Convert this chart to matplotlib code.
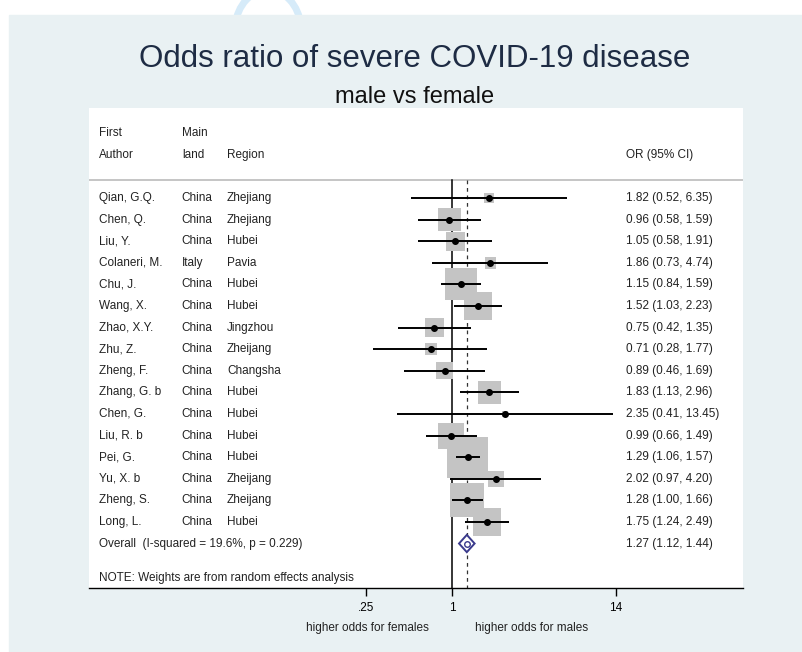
import numpy as np
import matplotlib
matplotlib.use('Agg')
import matplotlib.pyplot as plt
from matplotlib.patches import Rectangle, Arc, Polygon
import matplotlib.transforms as mtransforms

plt.rcParams['font.family'] = ['Liberation Sans', 'DejaVu Sans']

# study data
authors = ['Qian, G.Q.', 'Chen, Q.', 'Liu, Y.', 'Colaneri, M.', 'Chu, J.',
           'Wang, X.', 'Zhao, X.Y.', 'Zhu, Z.', 'Zheng, F.', 'Zhang, G. b',
           'Chen, G.', 'Liu, R. b', 'Pei, G.', 'Yu, X. b', 'Zheng, S.',
           'Long, L.']
mainland = ['China', 'China', 'China', 'Italy', 'China', 'China', 'China',
            'China', 'China', 'China', 'China', 'China', 'China', 'China',
            'China', 'China']
regions = ['Zhejiang', 'Zhejiang', 'Hubei', 'Pavia', 'Hubei', 'Hubei',
           'Jingzhou', 'Zheijang', 'Changsha', 'Hubei', 'Hubei', 'Hubei',
           'Hubei', 'Zheijang', 'Zheijang', 'Hubei']
odds = [1.82, 0.96, 1.05, 1.86, 1.15, 1.52, 0.75, 0.71, 0.89, 1.83, 2.35,
        0.99, 1.29, 2.02, 1.28, 1.75]
ci_low = [0.52, 0.58, 0.58, 0.73, 0.84, 1.03, 0.42, 0.28, 0.46, 1.13, 0.41,
          0.66, 1.06, 0.97, 1.00, 1.24]
ci_high = [6.35, 1.59, 1.91, 4.74, 1.59, 2.23, 1.35, 1.77, 1.69, 2.96, 13.45,
           1.49, 1.57, 4.20, 1.66, 2.49]
weights = [1.1, 6.0, 4.1, 1.6, 11.6, 8.9, 4.1, 1.6, 3.3, 6.0, 0.4, 7.6, 19.0,
           2.9, 13.1, 8.9]
overall_or, overall_lo, overall_hi = 1.27, 1.12, 1.44
overall_label = 'Overall  (I-squared = 19.6%, p = 0.229)'
tick_vals = [0.25, 1, 14]
tick_labels = ['.25', '1', '14']

W, H = 803, 652
fig = plt.figure(figsize=(W / 100, H / 100), dpi=100)
fig.patch.set_facecolor('white')

# outer light panel
fig.patches.append(Rectangle((9 / W, 0), (W - 9) / W, (H - 15) / H,
                             transform=fig.transFigure, color='#e9f1f3',
                             zorder=0))
# faint watermark arch at the top
fig.patches.append(Arc((268 / W, 1 - 30 / H), 66 / W, 80 / H, theta1=10,
                       theta2=170, transform=fig.transFigure,
                       color='#d6ebf9', lw=5, zorder=-1))

fig.text(415 / W, 1 - 67 / H, 'Odds ratio of severe COVID-19 disease',
         ha='center', va='baseline', fontsize=22.5, color='#1e2c44')
fig.text(415 / W, 1 - 103 / H, 'male vs female', ha='center',
         va='baseline', fontsize=17, color='#111111')

ax = fig.add_axes([89 / W, 1 - 588 / H, (743 - 89) / W, (588 - 108) / H])
ax.set_zorder(2)
ax.set_facecolor('white')
ax.set_xscale('log')
x0 = np.exp((89 - 452) / 62)
x1 = np.exp((743 - 452) / 62)
ax.set_xlim(x0, x1)
ax.set_ylim(18.06, -4.17)
for s in ['top', 'left', 'right']:
    ax.spines[s].set_visible(False)
ax.spines['bottom'].set_linewidth(1.0)
ax.set_yticks([])
ax.set_xticks(tick_vals)
ax.set_xticklabels(tick_labels)
ax.minorticks_off()
ax.tick_params(axis='x', length=6, width=1, labelsize=8.5, pad=4)

fs = 8.5
tc = '#222222'
trans = mtransforms.blended_transform_factory(ax.transAxes, ax.transData)
col_x = [0.0153, 0.142, 0.211, 0.821]

# header
ax.text(col_x[0], -3, 'First', transform=trans, fontsize=fs, color=tc, va='center')
ax.text(col_x[1], -3, 'Main', transform=trans, fontsize=fs, color=tc, va='center')
ax.text(col_x[0], -2, 'Author', transform=trans, fontsize=fs, color=tc, va='center')
ax.text(col_x[1], -2, 'land', transform=trans, fontsize=fs, color=tc, va='center')
ax.text(col_x[2], -2, 'Region', transform=trans, fontsize=fs, color=tc, va='center')
ax.text(col_x[3], -2, 'OR (95% CI)', transform=trans, fontsize=fs, color=tc, va='center')
ax.plot([0, 1], [-0.83, -0.83], transform=trans, color='#bbbbbb', lw=1.2)

rows = np.arange(len(authors))

# reference lines
ax.plot([1, 1], [-0.83, 18.06], color='black', lw=1.1, zorder=2)
ax.plot([overall_or, overall_or], [-0.83, 18.06], color='#333333', lw=0.9,
        ls=(0, (3, 3)), zorder=2)

# weight boxes
sizes = 45.8 * np.array(weights)
ax.scatter(odds, rows, s=sizes, marker='s', color='#c4c4c4', lw=0, zorder=3)
ax.hlines(rows, ci_low, ci_high, color='black', lw=1.4, zorder=4)
ax.plot(odds, rows, 'o', color='black', ms=4, zorder=5)

for i in rows:
    ax.text(col_x[0], i, authors[i], transform=trans, fontsize=fs, color=tc, va='center')
    ax.text(col_x[1], i, mainland[i], transform=trans, fontsize=fs, color=tc, va='center')
    ax.text(col_x[2], i, regions[i], transform=trans, fontsize=fs, color=tc, va='center')
    ax.text(col_x[3], i, '{:.2f} ({:.2f}, {:.2f})'.format(
        odds[i], ci_low[i], ci_high[i]), transform=trans, fontsize=fs,
        color=tc, va='center')

# overall diamond
yo = len(authors)
diamond = Polygon([[overall_lo, yo], [overall_or, yo - 0.4],
                   [overall_hi, yo], [overall_or, yo + 0.4]], closed=True,
                  facecolor='white', edgecolor='#3a3a8c', lw=1.4, zorder=5)
ax.add_patch(diamond)
ax.plot([overall_or], [yo], 'o', mfc='none', mec='#3a3a8c', ms=4, mew=1,
        zorder=6)
ax.text(col_x[0], yo, overall_label, transform=trans, fontsize=fs, color=tc,
        va='center')
ax.text(col_x[3], yo, '{:.2f} ({:.2f}, {:.2f})'.format(
    overall_or, overall_lo, overall_hi), transform=trans, fontsize=fs,
    color=tc, va='center')

ax.text(col_x[0], 17.6, 'NOTE: Weights are from random effects analysis',
        transform=trans, fontsize=fs, color=tc, va='center')

# direction labels
fig.text(367 / W, 1 - 628 / H, 'higher odds for females', ha='center',
         va='center', fontsize=fs, color=tc)
fig.text(532 / W, 1 - 628 / H, 'higher odds for males', ha='center',
         va='center', fontsize=fs, color=tc)

fig.savefig('out.png', dpi=100)
